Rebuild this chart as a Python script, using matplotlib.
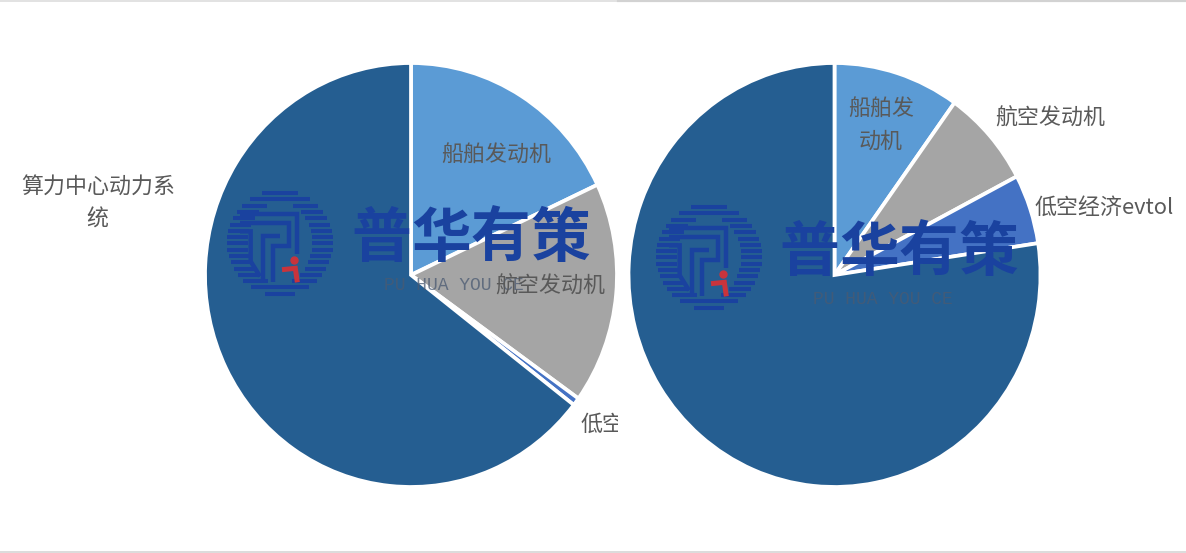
import numpy as np
import matplotlib
matplotlib.use("Agg")
import matplotlib.pyplot as plt
from matplotlib.patches import Rectangle

plt.rcParams['font.family'] = ['Noto Sans CJK SC', 'DejaVu Sans']

W, H = 1186, 553

# data (shares in %)
left_values = [18.0, 16.9, 0.6, 64.5]
right_values = [9.9, 7.4, 5.3, 77.4]
slice_colors = ['#5B9BD5', '#A5A5A5', '#4472C4', '#255E91']

fig = plt.figure(figsize=(W / 100, H / 100), dpi=100, facecolor='white')


def pie_axes(cx, cy, rx, ry):
    ax = fig.add_axes([(cx - rx) / W, 1 - (cy + ry) / H, 2 * rx / W, 2 * ry / H])
    return ax


for values, cx in ((left_values, 411), (right_values, 834.5)):
    ax = pie_axes(cx, 275, 206, 212)
    ax.pie(values, colors=slice_colors, startangle=90, counterclock=False, radius=1,
           wedgeprops=dict(edgecolor='white', linewidth=2.7), frame=False)
    ax.set_aspect('auto')
    ax.set_xlim(-1, 1)
    ax.set_ylim(-1, 1)
    ax.axis('off')
    for p in ax.patches:
        p.set_clip_on(False)

# overlay in pixel coordinates
ov = fig.add_axes([0, 0, 1, 1], facecolor='none')
ov.set_xlim(0, W)
ov.set_ylim(H, 0)
ov.axis('off')

# image edge lines
ov.plot([0, 618], [0.8, 0.8], color='#e2e2e2', lw=1.4)
ov.plot([618, W], [1.0, 1.0], color='#d2d2d2', lw=1.6)
ov.plot([0, W], [551.5, 551.5], color='#dcdcdc', lw=1.4)

BLUE = '#1A429F'
RED = '#C8343C'


def logo(cx, cy):
    R, ix, iy = 53, 32, 41
    for dy in np.arange(-50, 51, 6.3):
        xo = np.sqrt(max(R ** 2 - dy ** 2, 0))
        xi = ix * np.sqrt(1 - (dy / iy) ** 2) if abs(dy) < iy else 0
        ov.plot([cx - xo, cx - xi], [cy + dy, cy + dy], color=BLUE, lw=2.9, zorder=3,
                solid_capstyle='butt')
        ov.plot([cx + xi, cx + xo], [cy + dy, cy + dy], color=BLUE, lw=2.9, zorder=3,
                solid_capstyle='butt')

    def pl(points, color=BLUE, lw=3.2):
        pts = np.array(points, dtype=float)
        ov.plot(cx + (pts[:, 0] - 180) / 3, cy + (pts[:, 1] - 190) / 3, color=color, lw=lw,
                solid_joinstyle='miter', solid_capstyle='butt', zorder=4)
    pl([(60, 103), (232, 103), (232, 222)])
    pl([(60, 130), (206, 130), (206, 200), (158, 200), (158, 308)])
    pl([(130, 308), (130, 168), (180, 168)])
    pl([(60, 155), (92, 155), (92, 245), (120, 290)])
    pl([(186, 270), (226, 266), (232, 308)], color=RED, lw=3.6)
    ov.plot(cx + (222 - 180) / 3, cy + (242 - 190) / 3, 'o', color=RED, ms=5, zorder=4)


def watermark(cx, cy, logo_x, logo_y, sub_x, sub_y):
    logo(logo_x, logo_y)
    for i, ch in enumerate('普华有策'):
        ov.text(cx + (i - 1.5) * 59.5, cy, ch, fontsize=43, fontweight='bold', color=BLUE,
                ha='center', va='center', zorder=5)
    ov.text(sub_x, sub_y, 'PU HUA YOU CE', family='Liberation Mono', fontsize=13, color='#4A5A72',
            alpha=0.75, ha='center', va='center', zorder=5)


watermark(471, 240, 280, 243, 454, 286)
watermark(899, 254, 709, 257, 883, 299)

LAB = '#595959'
labels = [
    ('船舶发动机', 496.5, 156),
    ('航空发动机', 550.5, 287),
    ('算力中心动力系', 98, 187),
    ('统', 97, 220),
    ('船舶发', 881, 110),
    ('动机', 881, 142),
    ('航空发动机', 1050, 119),
    ('低空经济evtol', 1104, 208),
]
for s, x, y in labels:
    ov.text(x, y, s, fontsize=15.8, color=LAB, ha='center', va='center', zorder=6)

clip = Rectangle((560, 400), 58, 50, transform=ov.transData)
t = ov.text(581, 425, '低空', fontsize=15.8, color=LAB, ha='left', va='center', zorder=6)
t.set_clip_path(clip)
t.set_clip_on(True)

fig.savefig('out.png', dpi=100, facecolor='white')
